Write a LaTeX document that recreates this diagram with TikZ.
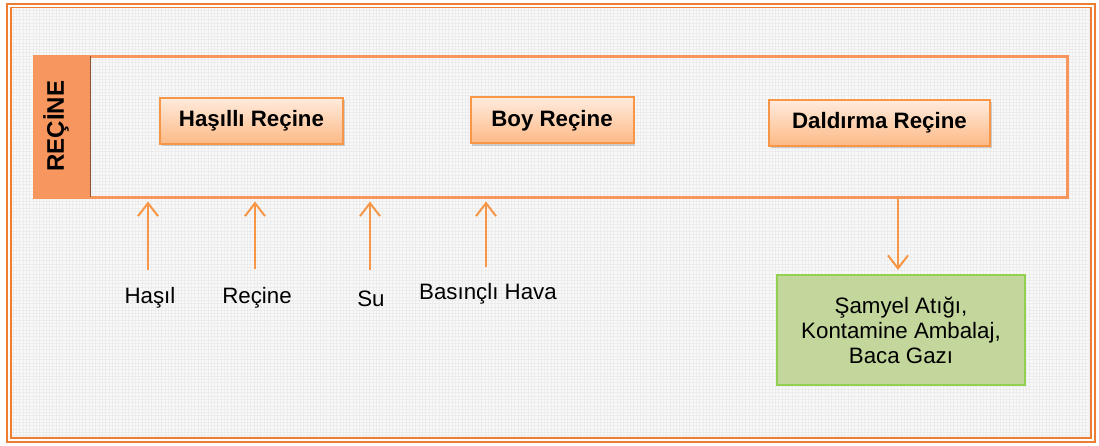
\documentclass[tikz,border=0pt]{standalone}
\usepackage{fontspec}
\setmainfont{Liberation Sans}
\usetikzlibrary{arrows.meta,shadows,calc}

\definecolor{frameor}{HTML}{ED7D31}
\definecolor{lineor}{HTML}{F7965A}
\definecolor{bandor}{HTML}{F8965F}
\definecolor{stepline}{HTML}{F79646}
\definecolor{steptop}{HTML}{FFEBDD}
\definecolor{stepbot}{HTML}{FDB985}
\definecolor{wastefill}{HTML}{C3D69B}
\definecolor{wasteline}{HTML}{92D050}
\definecolor{gridgray}{HTML}{ECECEC}

\tikzset{
  stepbox/.style={draw=stepline, line width=2pt, top color=steptop, bottom color=stepbot,
    drop shadow={shadow xshift=1.5pt, shadow yshift=-2.5pt, opacity=0.35},
    minimum height=46pt, font=\fontsize{22.3}{26}\selectfont\bfseries, inner sep=0pt},
  inlabel/.style={font=\fontsize{22.3}{26}\selectfont, inner sep=0pt},
  flow/.style={draw=stepline, line width=2pt, -{Straight Barb[length=13pt,width=20pt,line width=2pt]}},
}

\begin{document}
\begin{tikzpicture}[x=1pt,y=-1pt]
\useasboundingbox (0,0) rectangle (1099,446);
\fill[white] (0,0) rectangle (1099,446);

% faint background grid
\begin{scope}
  \clip (11,7) rectangle (1091,438);
  \fill[gridgray!35] (11,7) rectangle (1091,438);
  \draw[gridgray, line width=0.7pt, step=3.3pt] (11,7) grid (1091,438);
\end{scope}

% double outer frame
\draw[frameor, line width=2pt] (7,4) rectangle (1095,442);
\draw[frameor, line width=1.2pt] (11,7.5) rectangle (1091,438);

% main stage band
\node[draw=lineor, line width=3pt, minimum width=1033pt, minimum height=141pt, inner sep=0pt, anchor=north west]
  (main) at (33,55) {};
\fill[bandor] ($(main.north west)+(1.5,1.5)$) rectangle ($(main.south west)+(57,-1.5)$);
\draw[black!45!bandor, line width=1pt] ($(main.north west)+(57,1.5)$) -- ($(main.south west)+(57,-1.5)$);
\node[rotate=90, font=\fontsize{24}{28}\selectfont\bfseries] (title) at (56,126) {REÇİNE};

% process steps
\node[stepbox, minimum width=183pt] (s1) at (251.5,121) {Haşıllı Reçine};
\node[stepbox, minimum width=163pt] (s2) at (552,120.5) {Boy Reçine};
\node[stepbox, minimum width=221pt] (s3) at (879.5,123) {Daldırma Reçine};

% inputs
\node[inlabel] (in1) at (150,298) {Haşıl};
\node[inlabel] (in2) at (257,298) {Reçine};
\node[inlabel] (in3) at (371,299) {Su};
\node[inlabel] (in4) at (488,294) {Basınçlı Hava};

\coordinate (a1) at (148,270);
\coordinate (a2) at (255,269);
\coordinate (a3) at (370,270);
\coordinate (a4) at (486,267);

\draw[flow, shorten >=2.5pt] (a1) -- (a1 |- main.south);
\draw[flow, shorten >=2.5pt] (a2) -- (a2 |- main.south);
\draw[flow, shorten >=2.5pt] (a3) -- (a3 |- main.south);
\draw[flow, shorten >=2.5pt] (a4) -- (a4 |- main.south);

% output
\node[draw=wasteline, line width=2pt, fill=wastefill, minimum width=248pt, minimum height=110pt,
      inner sep=0pt, align=center, font=\fontsize{22.3}{25}\selectfont, anchor=north west]
  (waste) at (776,274) {Şamyel Atığı,\\Kontamine Ambalaj,\\Baca Gazı};

\coordinate (d0) at (898,199);
\draw[flow, shorten >=4pt] (d0) -- (d0 |- waste.north);
\end{tikzpicture}
\end{document}
